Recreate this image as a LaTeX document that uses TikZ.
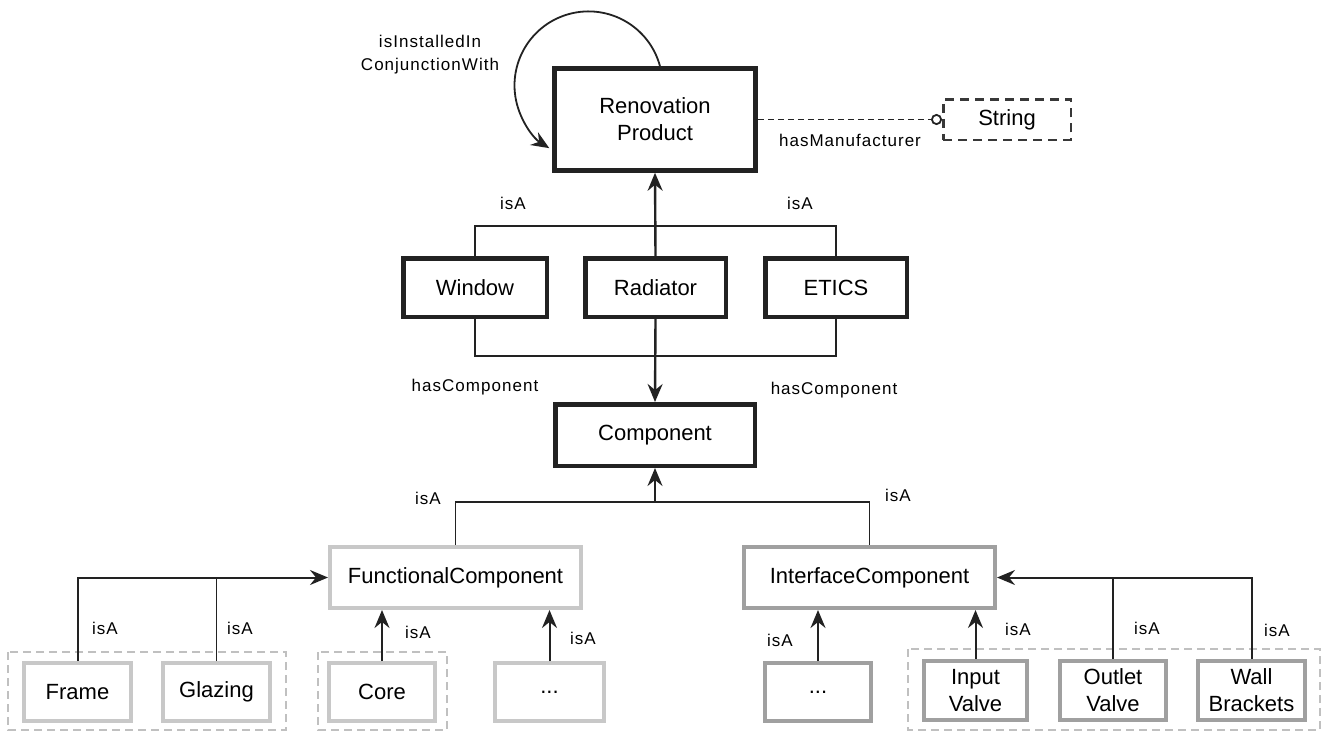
\documentclass[tikz,border=0pt]{standalone}
\usepackage{fontspec}
\setmainfont{Liberation Sans}
\newfontfamily\lblfont[LetterSpace=6]{Liberation Sans}
\usetikzlibrary{arrows.meta}
\definecolor{darkln}{HTML}{222222}
\definecolor{lightbox}{HTML}{C8C8C8}
\definecolor{midbox}{HTML}{A0A0A0}
\definecolor{grpline}{HTML}{C0C0C0}
\tikzset{cls/.style = {draw=darkln,line width=4.5pt,fill=white,align=center,inner sep=0pt,font=\fontsize{22}{27}\selectfont},
  lcls/.style = {cls,draw=lightbox,line width=4pt},
  mcls/.style = {cls,draw=midbox,line width=4pt},
  lbl/.style = {align=center,inner sep=0pt,font=\lblfont\fontsize{17}{23}\selectfont},
  link/.style = {draw=darkln,line width=1.8pt},
  arr/.style = {link,line width=2pt,-{Stealth[length=18pt,width=15pt,inset=6pt]}},
  grp/.style = {draw=grpline,line width=1.5pt,dash pattern=on 8pt off 5pt}}
\begin{document}
\begin{tikzpicture}[x=1pt,y=-1pt]
  \useasboundingbox (0,0) rectangle (1322,732);
  \draw[grp] (8,652) rectangle (286,730);
  \draw[grp] (318,652) rectangle (447,730);
  \draw[grp] (908,649) rectangle (1320,730);
  \node[cls,minimum width=201,minimum height=102] (rp) at (655,119.5) {Renovation\\Product};
  \node[cls,draw=darkln!90,line width=2.5pt,dash pattern=on 9pt off 6pt,minimum width=127.5,minimum height=40.5] (str) at (1007,119.5) {String};
  \node[cls,minimum width=143.5,minimum height=58.5] (win) at (475,287.5) {Window};
  \node[cls,minimum width=140.5,minimum height=58.5] (rad) at (655.5,287.5) {Radiator};
  \node[cls,minimum width=141.5,minimum height=58.5] (etics) at (836,287.5) {ETICS};
  \node[cls,minimum width=199.5,minimum height=61.5] (comp) at (655,435) {Component};
  \node[lcls,minimum width=251,minimum height=61] (fc) at (455.5,577.5) {FunctionalComponent};
  \node[mcls,minimum width=251,minimum height=61] (ic) at (869.5,577.5) {InterfaceComponent};
  \node[lcls,minimum width=107,minimum height=58] (frame) at (77.5,692) {Frame};
  \node[lcls,minimum width=107,minimum height=58] (glaz) at (216.5,692) {Glazing};
  \node[lcls,minimum width=106,minimum height=58] (core) at (382,692) {Core};
  \node[lcls,minimum width=109,minimum height=58] (fdots) at (549.5,692) {...};
  \node[mcls,minimum width=106,minimum height=58] (idots) at (818,692) {...};
  \node[mcls,minimum width=103,minimum height=59] (inv) at (975.5,690.5) {Input\\Valve};
  \node[mcls,minimum width=106,minimum height=59] (outv) at (1113,690.5) {Outlet\\Valve};
  \node[mcls,minimum width=107,minimum height=59] (wall) at (1251.5,690.5) {Wall\\Brackets};
  \coordinate (upj) at (655,226);
  \coordinate (lowj) at (655,356);
  \coordinate (cj) at (655,502);
  \draw[arr,line width=1.8pt] ([xshift=5]rp.north) arc[start angle=-15,end angle=-238,radius=74];
  \draw[link,dash pattern=on 6pt off 4pt,-{Circle[open,length=11pt,line width=1.8pt]}] (rp.east) -- (str.west);
  \draw[link] (win.north) |- (upj) -| (etics.north);
  \draw[arr,line width=2.4pt] (rad.north) -- (rp.south);
  \draw[link] (win.south) |- (lowj) -| (etics.south);
  \draw[arr,line width=2.4pt] (rad.south) -- (comp.north);
  \draw[link] (fc.north) |- (cj) -| (ic.north);
  \draw[arr] (cj) -- (comp.south);
  \draw[arr] (frame.north) |- (fc.west);
  \draw[link] (glaz.north) -- (glaz.north |- fc.west);
  \draw[arr] (core.north) -- (core.north |- fc.south);
  \draw[arr] (fdots.north) -- (fdots.north |- fc.south);
  \draw[arr] (idots.north) -- (idots.north |- ic.south);
  \draw[arr] (inv.north) -- (inv.north |- ic.south);
  \draw[arr] (wall.north) |- (ic.east);
  \draw[link] (outv.north) -- (outv.north |- ic.east);
  \node[lbl] (l1) at (430,55) {isInstalledIn\\ConjunctionWith};
  \node[lbl] (l2) at (850,140) {hasManufacturer};
  \node[lbl] (l3) at (513,203) {isA};
  \node[lbl] (l4) at (800,203) {isA};
  \node[lbl] (l5) at (475,387) {hasComponent};
  \node[lbl] (l6) at (834,390) {hasComponent};
  \node[lbl] (l7) at (428,498) {isA};
  \node[lbl] (l8) at (898,495) {isA};
  \node[lbl] (l9) at (105,628) {isA};
  \node[lbl] (l10) at (240,628) {isA};
  \node[lbl] (l11) at (418,632) {isA};
  \node[lbl] (l12) at (583,638) {isA};
  \node[lbl] (l13) at (780,640) {isA};
  \node[lbl] (l14) at (1018,629) {isA};
  \node[lbl] (l15) at (1147,628) {isA};
  \node[lbl] (l16) at (1277,630) {isA};
\end{tikzpicture}
\end{document}
